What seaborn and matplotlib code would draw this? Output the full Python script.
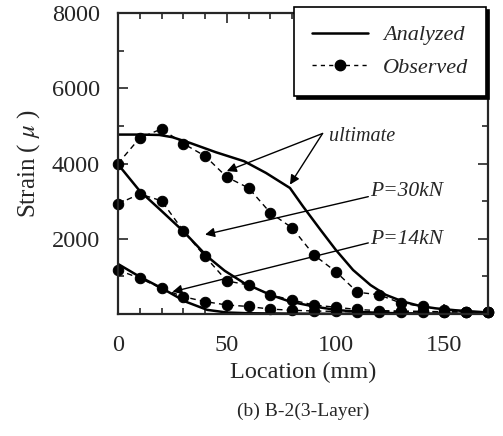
import numpy as np
import pandas as pd
import matplotlib
matplotlib.use("Agg")
import matplotlib.pyplot as plt
from matplotlib.lines import Line2D
from matplotlib.ticker import MultipleLocator
import seaborn as sns

# observed strain (dots, dashed) at 10 mm spacing
x_obs = [0, 10, 20, 30, 40, 50, 60, 70, 80, 90, 100, 110, 120, 130, 140, 150, 160, 170]
ult_obs = [4000, 4680, 4920, 4530, 4200, 3640, 3350, 2690, 2290, 1570, 1130, 580, 510, 290, 200, 110, 60, 60]
p30_obs = [2930, 3190, 3010, 2210, 1530, 880, 770, 510, 370, 240, 180, 120, 90, 80, 70, 60, 60, 60]
p14_obs = [1170, 950, 680, 460, 330, 240, 200, 130, 100, 80, 70, 60, 60, 60, 60, 60, 60, 60]

# analyzed curves (solid)
ult_x = [0, 10, 19, 25, 33, 45, 58, 68, 79, 85, 93, 100, 108, 116, 123, 131, 139, 146, 155, 170]
ult_y = [4770, 4770, 4760, 4700, 4550, 4300, 4060, 3750, 3350, 2860, 2240, 1710, 1170, 770, 510, 330, 210, 150, 100, 40]
p30_x = [0, 10, 20, 30, 41, 49, 58, 70, 79, 90, 100, 110, 120, 140, 170]
p30_y = [3980, 3270, 2740, 2200, 1530, 1150, 820, 510, 330, 200, 110, 60, 30, 10, 0]
p14_x = [0, 10, 20, 31, 41, 50, 60, 80, 100, 170]
p14_y = [1330, 990, 690, 330, 110, 40, 20, 10, 5, 0]

sns.set_style("ticks")
plt.rcParams["font.family"] = ["Liberation Serif", "DejaVu Serif"]
plt.rcParams["mathtext.fontset"] = "stix"

fig = plt.figure(figsize=(5.03, 4.36), dpi=100)
ax = fig.add_axes([0.2346, 0.2798, 0.7356, 0.6902])

for xs, ys in [(ult_x, ult_y), (p30_x, p30_y), (p14_x, p14_y)]:
    sns.lineplot(x=xs, y=ys, ax=ax, color="k", lw=1.8, sort=False)

for ys in [ult_obs, p30_obs, p14_obs]:
    sns.lineplot(x=x_obs, y=ys, ax=ax, color="k", lw=1.0, linestyle=(0, (4, 3)),
                 marker="o", markersize=7.5, markeredgecolor="k", sort=False, clip_on=False)

ax.set_xlim(0, 170)
ax.set_ylim(0, 8000)
ax.set_xticks([0, 50, 100, 150])
ax.set_yticks([2000, 4000, 6000, 8000])
ax.xaxis.set_minor_locator(MultipleLocator(10))
ax.yaxis.set_minor_locator(MultipleLocator(1000))
ax.tick_params(which="both", direction="in", top=True, right=True, width=1.2)
ax.tick_params(which="major", length=7, labelsize=17.5)
ax.tick_params(axis="x", which="major", pad=15)
ax.tick_params(axis="y", which="major", pad=13)
ax.tick_params(which="minor", length=4)
for s in ax.spines.values():
    s.set_linewidth(1.6)

ax.set_xlabel("Location (mm)", fontsize=17.5, labelpad=4)
ax.set_ylabel(r"Strain ( $\mu$ )", fontsize=18, labelpad=7)

arrow = dict(arrowstyle="-|>", color="k", lw=1.0, mutation_scale=14, shrinkA=0, shrinkB=0)
ax.text(97, 4720, "ultimate", fontsize=14.5, style="italic", va="center")
ax.annotate("", xy=(50, 3800), xytext=(94, 4800), arrowprops=arrow)
ax.annotate("", xy=(79, 3440), xytext=(94, 4800), arrowprops=arrow)
ax.text(116, 3250, "P=30kN", fontsize=15.5, style="italic", va="center")
ax.annotate("", xy=(40, 2110), xytext=(115, 3120), arrowprops=arrow)
ax.text(116, 1990, "P=14kN", fontsize=15.5, style="italic", va="center")
ax.annotate("", xy=(25, 590), xytext=(115, 1890), arrowprops=arrow)

handles = [Line2D([], [], color="k", lw=1.8),
           Line2D([], [], color="k", lw=1.0, linestyle=(0, (3, 3)), marker="o",
                  markersize=7.5)]
leg = ax.legend(handles, ["Analyzed", "Observed"], loc="upper right",
                bbox_to_anchor=(0.995, 1.02), borderaxespad=0, fancybox=False,
                shadow={"ox": 2, "oy": -2, "color": "k", "alpha": 1},
                framealpha=1, edgecolor="k", handlelength=2.5,
                prop={"style": "italic", "size": 16}, borderpad=0.8,
                labelspacing=0.55, handletextpad=0.7)
leg.get_frame().set_linewidth(1.2)

fig.text(0.602, 0.047, "(b) B-2(3-Layer)", fontsize=14, ha="center")

fig.savefig("out.png", dpi=100)
